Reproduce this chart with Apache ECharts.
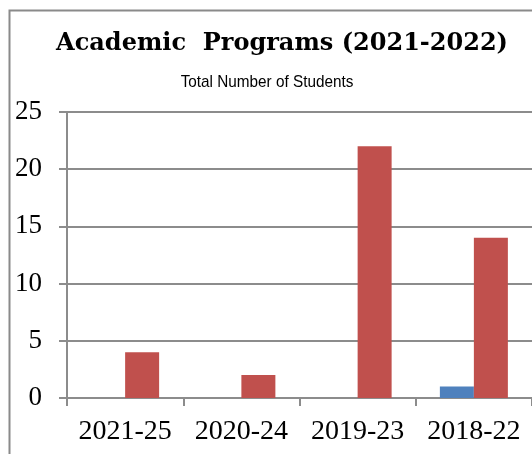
<!DOCTYPE html>
<html>
<head>
<meta charset="utf-8">
<title>Academic Programs (2021-2022)</title>
<script src="https://cdn.jsdelivr.net/npm/echarts@6/dist/echarts.min.js"></script>
<style>
  html, body { margin: 0; padding: 0; background: #ffffff; }
  #chart { width: 532px; height: 454px; }
</style>
</head>
<body>
<div id="chart"></div>
<script>
// Intake batches and student counts per programme group
const categories = ['2021-25', '2020-24', '2019-23', '2018-22'];
const blueSeries = [0, 0, 0, 1];
const redSeries = [4, 2, 22, 14];
const yTicks = { min: 0, max: 25, interval: 5 };

const titleFont = '"DejaVu Serif", "Liberation Serif", serif';
const serifFont = '"Liberation Serif", "DejaVu Serif", serif';
const sansFont = '"Liberation Sans", "Open Sans", sans-serif';
const gridGray = '#8c8c8c';

const chart = echarts.init(document.getElementById('chart'), null, { renderer: 'canvas' });

chart.setOption({
  animation: false,
  backgroundColor: '#ffffff',
  title: [
    {
      text: 'Academic  Programs (2021-2022)',
      left: 277,
      top: 27,
      textAlign: 'center',
      textStyle: { fontFamily: titleFont, fontWeight: 'bold', fontSize: 24, color: '#000000' }
    }
  ],
  graphic: [
    {
      // subtitle, horizontally condensed
      type: 'text',
      x: 267,
      y: 82,
      scaleX: 0.9,
      silent: true,
      style: {
        text: 'Total Number of Students',
        fontFamily: sansFont,
        fontSize: 17,
        fill: '#000000',
        align: 'center',
        verticalAlign: 'middle'
      }
    },
    {
      type: 'rect',
      shape: { x: 9.5, y: 10.5, width: 700, height: 700 },
      style: { fill: 'none', stroke: '#8a8a8a', lineWidth: 2 },
      silent: true,
      z: 100
    }
  ],
  grid: { left: 67, right: -4, top: 112, bottom: 56, containLabel: false },
  xAxis: {
    type: 'category',
    data: categories,
    boundaryGap: true,
    axisLine: { show: true, lineStyle: { color: gridGray, width: 2 } },
    axisTick: { show: true, length: 8, interval: 0, alignWithLabel: false, lineStyle: { color: gridGray, width: 2 } },
    axisLabel: { interval: 0, margin: 20, fontFamily: serifFont, fontSize: 28, color: '#000000', hideOverlap: false },
    splitLine: { show: false }
  },
  yAxis: {
    type: 'value',
    min: yTicks.min,
    max: yTicks.max,
    interval: yTicks.interval,
    axisLine: { show: true, lineStyle: { color: gridGray, width: 2 } },
    axisTick: { show: true, length: 8, lineStyle: { color: gridGray, width: 2 } },
    axisLabel: { margin: 25, fontFamily: serifFont, fontSize: 27, color: '#000000' },
    splitLine: { show: true, lineStyle: { color: gridGray, width: 2 } }
  },
  series: [
    {
      type: 'bar',
      data: blueSeries,
      barWidth: 34,
      barGap: '0%',
      itemStyle: { color: '#4f81bd' },
      z: 3
    },
    {
      type: 'bar',
      data: redSeries,
      barWidth: 34,
      barGap: '0%',
      itemStyle: { color: '#c0504d' },
      z: 3
    }
  ]
});
</script>
</body>
</html>
